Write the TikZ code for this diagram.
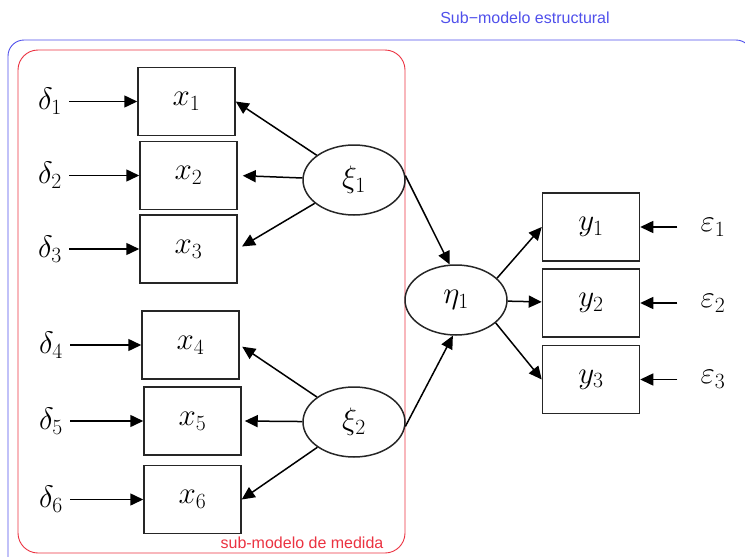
\RequirePackage{fix-cm}
\documentclass[tikz,border=0pt]{standalone}
\usepackage{fontspec}
\setsansfont{Liberation Sans}
\usepackage{amsmath}
\usetikzlibrary{arrows.meta}
\usetikzlibrary{positioning}
\usetikzlibrary{shapes.geometric}
\definecolor{strucblue}{RGB}{80,80,235}
\definecolor{medred}{RGB}{235,50,65}
\tikzstyle{obs}=[draw=black!85,line width=1.5pt,rectangle,minimum width=97pt,minimum height=68pt,inner sep=0pt]
\tikzstyle{latent}=[draw=black!85,line width=1.5pt,ellipse,minimum width=102pt,minimum height=70pt,inner sep=0pt]
\tikzstyle{err}=[inner sep=3pt]
\tikzstyle{arr}=[line width=1.5pt,-{Triangle[length=13pt,width=12pt]}]
\tikzstyle{boxlabel}=[font=\fontsize{16}{18}\selectfont\sffamily,inner sep=0pt]

\begin{document}
\begin{tikzpicture}[x=1pt,y=-1pt,font=\fontsize{31}{35}\selectfont]
\useasboundingbox (0,0) rectangle (745,557);
% frames
\draw[strucblue,line width=0.9pt,rounded corners=16pt] (8,40) rectangle (752,600);
\draw[medred,line width=0.9pt,rounded corners=20pt] (18,50) rectangle (405,553);
\node[boxlabel,text=strucblue] (struc) at (525,18) {Sub\textminus modelo estructural};
\node[boxlabel,text=medred] (med) at (302,543) {sub-modelo de medida};

% measurement side
\node [obs] (x1) at (186.5,101.5) {$x_1$};
\node [obs] (x2) at (188.5,175.5) {$x_2$};
\node [obs] (x3) at (188.5,249) {$x_3$};
\node [obs] (x4) at (190.5,345) {$x_4$};
\node [obs] (x5) at (192.5,421) {$x_5$};
\node [obs] (x6) at (192.5,499.5) {$x_6$};

\node [err] (d1) at (50,101.5) {$\delta_1$};
\node [err] (d2) at (50,175.5) {$\delta_2$};
\node [err] (d3) at (50,249) {$\delta_3$};
\node [err] (d4) at (51,345) {$\delta_4$};
\node [err] (d5) at (51,421) {$\delta_5$};
\node [err] (d6) at (51,499.5) {$\delta_6$};

\node [latent] (xi1) at (354,180) {$\xi_1$};
\node [latent] (xi2) at (354,422) {$\xi_2$};

% structural side
\node [latent] (eta1) at (456,300) {$\eta_1$};
\node [obs] (y1) at (591,227) {$y_1$};
\node [obs] (y2) at (591,303) {$y_2$};
\node [obs] (y3) at (591,379.5) {$y_3$};
\node [err] (e1) at (713,227) {$\varepsilon_1$};
\node [err] (e2) at (713,303) {$\varepsilon_2$};
\node [err] (e3) at (713,379.5) {$\varepsilon_3$};

% arrows
\draw[arr,shorten <=4pt] (d1) -- (x1);
\draw[arr,shorten <=4pt] (d2) -- (x2);
\draw[arr,shorten <=4pt] (d3) -- (x3);
\draw[arr,shorten <=4pt] (d4) -- (x4);
\draw[arr,shorten <=4pt] (d5) -- (x5);
\draw[arr,shorten <=4pt] (d6) -- (x6);

\draw[arr] (xi1) -- (x1.east);
\draw[arr,shorten >=5pt] (xi1) -- (x2.east);
\draw[arr,shorten >=5pt] (xi1) -- (x3.east);
\draw[arr,shorten >=3pt] (xi2) -- (x4.east);
\draw[arr,shorten >=3pt] (xi2) -- (x5.east);
\draw[arr] (xi2) -- (x6.east);

\draw[arr] (xi1.5) -- (eta1.100);
\draw[arr] (xi2.-5) -- (eta1.-95);

\draw[arr] (eta1.28) -- (y1.west);
\draw[arr] (eta1) -- (y2);
\draw[arr] (eta1.-30) -- (y3.west);

\draw[arr,shorten <=20pt] (e1) -- (y1);
\draw[arr,shorten <=20pt] (e2) -- (y2);
\draw[arr,shorten <=20pt] (e3) -- (y3);
\end{tikzpicture}
\end{document}
